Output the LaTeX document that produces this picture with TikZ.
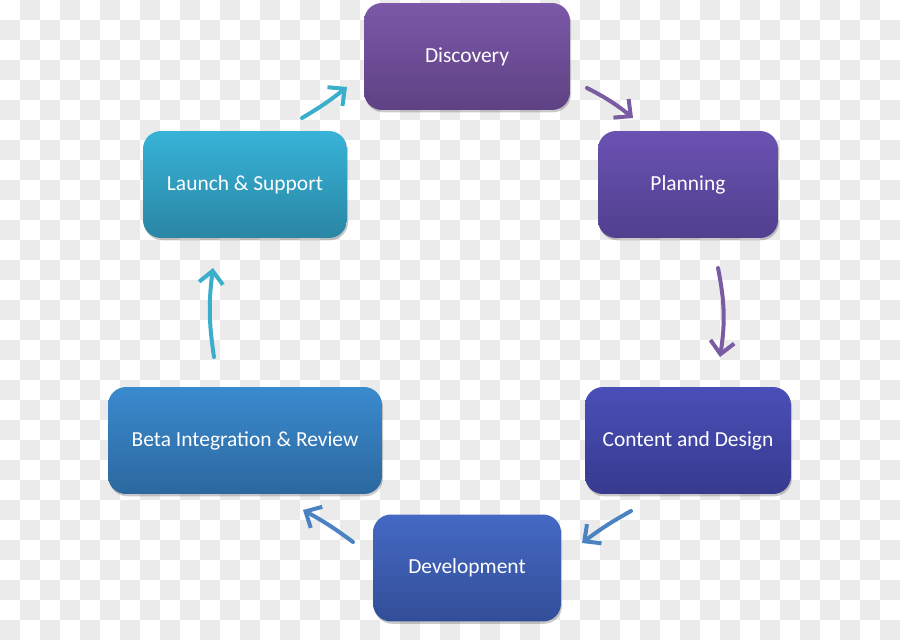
\documentclass[tikz,border=0pt]{standalone}
\usepackage{fontspec}
\setmainfont{Carlito}
\usepackage{xcolor}
\usetikzlibrary{arrows.meta, shadows}

\definecolor{discTop}{HTML}{7B58A8}
\definecolor{discBot}{HTML}{5E4284}
\definecolor{planTop}{HTML}{6A52B2}
\definecolor{planBot}{HTML}{50408E}
\definecolor{contTop}{HTML}{4A4FB8}
\definecolor{contBot}{HTML}{373A8E}
\definecolor{devTop}{HTML}{4469C4}
\definecolor{devBot}{HTML}{334E98}
\definecolor{betaTop}{HTML}{3A8ACE}
\definecolor{betaBot}{HTML}{2C689F}
\definecolor{launTop}{HTML}{37B3D7}
\definecolor{launBot}{HTML}{2A86A4}
\definecolor{arPurple}{HTML}{7A5CA2}
\definecolor{arBlue}{HTML}{4A82C2}
\definecolor{arTeal}{HTML}{3AAECB}
\definecolor{checker}{HTML}{EBEBEB}

\begin{document}
\begin{tikzpicture}[
  x=0.02cm, y=-0.02cm,
  stage/.style={rounded corners=0.36cm, minimum height=2.14cm, inner sep=2pt,
    text=white, font=\fontsize{12.2}{14}\selectfont, text height=1.38ex, text depth=0pt,
    drop shadow={shadow xshift=0.6pt, shadow yshift=-1.3pt, opacity=0.35, fill=black!60}},
  flow/.style={line width=0.08cm, line cap=round,
    -{Straight Barb[length=2.5mm, width=4.8mm, line width=0.08cm]}},
]
\useasboundingbox (0,0) rectangle (900,640);
% checkerboard backdrop
\foreach \i in {0,...,44} {
  \foreach \j in {0,...,31} {
    \ifodd\numexpr\i+\j\relax
      \fill[checker] (20*\i,20*\j) rectangle ++(20,20);
    \fi
  }
}

% stages
\node[stage, minimum width=4.12cm, top color=discTop, bottom color=discBot] (disc) at (467,56.5) {Discovery};
\node[stage, minimum width=3.60cm, top color=planTop, bottom color=planBot] (plan) at (688,184.5) {Planning};
\node[stage, minimum width=4.12cm, top color=contTop, bottom color=contBot] (cont) at (688,440.5) {Content and Design};
\node[stage, minimum width=3.76cm, top color=devTop, bottom color=devBot] (dev) at (467,568) {Development};
\node[stage, minimum width=5.48cm, top color=betaTop, bottom color=betaBot] (beta) at (245,440.5) {Beta Integration \& Review};
\node[stage, minimum width=4.08cm, top color=launTop, bottom color=launBot] (laun) at (245,184.5) {Launch \& Support};

% arrow ends
\coordinate (a1s) at (587,88);  \coordinate (a1e) at (633,118);
\coordinate (a2s) at (718,268); \coordinate (a2e) at (720,357);
\coordinate (a3s) at (631,511); \coordinate (a3e) at (582,543);
\coordinate (a4s) at (353,542); \coordinate (a4e) at (303,510);
\coordinate (a5s) at (214,357); \coordinate (a5e) at (213,268);
\coordinate (a6s) at (302,118); \coordinate (a6e) at (347,87);

% cycle
\draw[flow, arPurple] (a1s) to[bend left=6] (a1e);
\draw[flow, arPurple] (a2s) to[bend left=10] (a2e);
\draw[flow, arBlue] (a3s) to[bend right=4] (a3e);
\draw[flow, arBlue] (a4s) to[bend right=4] (a4e);
\draw[flow, arTeal] (a5s) to[bend left=8] (a5e);
\draw[flow, arTeal] (a6s) to[bend right=4] (a6e);
\end{tikzpicture}
\end{document}
